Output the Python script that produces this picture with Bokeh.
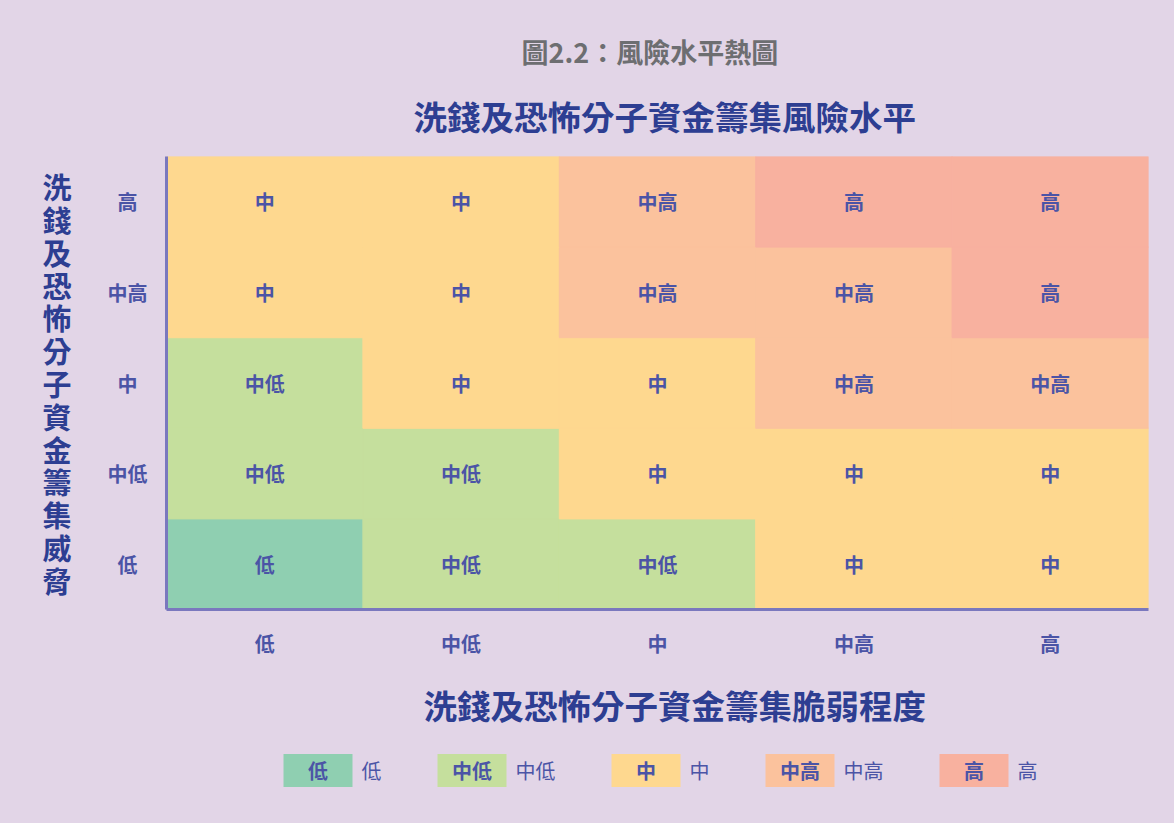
from bokeh.plotting import figure
from bokeh.models import (ColumnDataSource, Title, Range1d, FactorRange,
                          CategoricalAxis, CustomJSTickFormatter)
from bokeh.layouts import column
from bokeh.embed import file_html
from bokeh.resources import INLINE
from bokeh.core.properties import value

# ---- data ----
levels = ["低", "中低", "中", "中高", "高"]
vulnerability = levels                     # x axis categories
threat = levels                            # y axis categories (bottom -> top)
# risk level for each threat row, columns 低 -> 高 vulnerability
risk_rows = {
    "高":   ["中", "中", "中高", "高", "高"],
    "中高": ["中", "中", "中高", "中高", "高"],
    "中":   ["中低", "中", "中", "中高", "中高"],
    "中低": ["中低", "中低", "中", "中", "中"],
    "低":   ["低", "中低", "中低", "中", "中"],
}
level_colors = ["#8FCFB1", "#C5DF9D", "#FED88F", "#FBC29D", "#F8B19F"]

BG = "#E2D5E7"
FONT = "Noto Sans CJK TC"
TXT = "#4B54A6"
BLUE = "#2D3E92"

color_of = dict(zip(levels, level_colors))
xs, ys, rs, cs = [], [], [], []
for t in threat:
    for v, r in zip(vulnerability, risk_rows[t]):
        xs.append(v); ys.append(t); rs.append(r); cs.append(color_of[r])
src = ColumnDataSource(dict(x=xs, y=ys, risk=rs, color=cs))

W = 1174
LEFT, RIGHT, TOP, BOTTOM = 166, 26, 156, 136
H = 745
p = figure(width=W, height=H, x_range=FactorRange(*vulnerability),
           y_range=FactorRange(*threat), output_backend="svg",
           toolbar_location=None, title=None,
           min_border_left=LEFT, min_border_right=RIGHT, min_border_top=TOP,
           min_border_bottom=BOTTOM)
p.background_fill_color = BG
p.border_fill_color = BG
p.outline_line_color = None
p.grid.grid_line_color = None
p.x_range.range_padding = 0
p.y_range.range_padding = 0

p.rect("x", "y", width=1, height=1, source=src, fill_color="color",
       line_color="color", line_width=1)
p.text("x", "y", text="risk", source=src, text_align="center",
       text_baseline="middle", text_color=TXT, text_font=value(FONT),
       text_font_size="20px", text_font_style="bold")

# second left axis: inner one carries the 1-char labels, outer the 2-char
# labels, so that all tick labels end up centred on one column
y_outer = CategoricalAxis()
p.add_layout(y_outer, "left")

for ax in (p.xaxis[0], p.yaxis[0], y_outer):
    ax.axis_line_color = "#7A78BE"
    ax.axis_line_width = 3
    ax.major_tick_line_color = None
    ax.minor_tick_line_color = None
    ax.major_label_text_font = FONT
    ax.major_label_text_font_size = "20px"
    ax.major_label_text_font_style = "bold"
    ax.major_label_text_color = TXT
    ax.axis_label_text_font = FONT
    ax.axis_label_text_font_style = "bold"
    ax.axis_label_text_color = BLUE

p.xaxis.major_label_standoff = 13

y_inner = p.yaxis[0]
y_inner.formatter = CustomJSTickFormatter(
    code="return tick.length > 1 ? '' : tick;")
y_inner.major_label_standoff = 23
y_outer.axis_line_color = None
y_outer.formatter = CustomJSTickFormatter(
    code="return tick.length > 1 ? tick : '';")
y_outer.major_label_standoff = -39

y_outer.axis_label = "\n".join("洗錢及恐怖分子資金籌集威脅")
y_outer.axis_label_orientation = "horizontal"
y_outer.axis_label_text_font_size = "29px"
y_outer.axis_label_text_line_height = 0.78
y_outer.axis_label_standoff = 33

p.add_layout(Title(text="洗錢及恐怖分子資金籌集脆弱程度", align="left",
                   offset=257, text_font=FONT, text_font_size="33.5px",
                   text_font_style="bold", text_color=BLUE, standoff=34),
             "below")
p.add_layout(Title(text="洗錢及恐怖分子資金籌集風險水平", align="left",
                   offset=247, text_font=FONT, text_font_size="33.5px",
                   text_font_style="bold", text_color=BLUE, standoff=34),
             "above")
p.add_layout(Title(text="圖2.2：風險水平熱圖", align="left", offset=355,
                   text_font=FONT, text_font_size="27px", text_font_style="bold",
                   text_color="#6D6E71", standoff=2), "above")

# ---- legend strip (second figure, x in page pixels) ----
box_w = 69
gap = 9
char_w = 20
spacing = 56
start = 283
lx, tx = [], []
pos = start
for lv in levels:
    lx.append(pos + box_w / 2)
    tx.append(pos + box_w + gap)
    pos += box_w + gap + char_w * len(lv) + spacing
LH = 78
lsrc = ColumnDataSource(dict(x=lx, tx=tx, y=[1 - 25 / LH] * 5, label=levels,
                             color=level_colors))
lg = figure(width=W, height=LH, x_range=Range1d(LEFT, W - RIGHT),
            y_range=Range1d(0, 1), output_backend="svg",
            toolbar_location=None, title=None, min_border=0,
            min_border_left=LEFT, min_border_right=RIGHT)
lg.background_fill_color = BG
lg.border_fill_color = BG
lg.outline_line_color = None
lg.axis.visible = False
lg.grid.grid_line_color = None
lg.rect("x", "y", width=box_w, height=33, height_units="screen", source=lsrc,
        fill_color="color", line_color=None)
lg.text("x", "y", text="label", source=lsrc, text_align="center",
        text_baseline="middle", text_color=TXT, text_font=value(FONT),
        text_font_size="20px", text_font_style="bold")
lg.text("tx", "y", text="label", source=lsrc, text_align="left",
        text_baseline="middle", text_color=TXT, text_font=value(FONT),
        text_font_size="20px")

layout = column(p, lg, spacing=0, styles={"background-color": BG})
open("out.html", "w").write(file_html(layout, INLINE))
